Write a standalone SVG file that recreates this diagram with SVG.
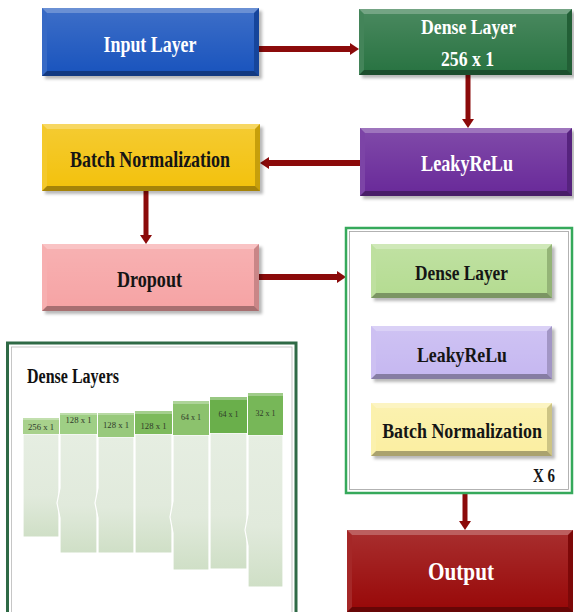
<svg xmlns="http://www.w3.org/2000/svg" width="574" height="612" viewBox="0 0 574 612">
<defs>
<style>
.t{font-family:"Liberation Serif","Times New Roman",serif;font-weight:bold;text-anchor:middle}
.w{fill:#ffffff}
.k{fill:#151515}
.bt{fill:#ffffff;fill-opacity:.35}
.bb{fill:#000000;fill-opacity:.32}
.bl{fill:#ffffff;fill-opacity:.12}
.br{fill:#000000;fill-opacity:.18}
.sh{fill:#000000;fill-opacity:.28;filter:url(#blur)}
.face{fill:url(#faceg)}
.arr{stroke:#8b0a0a;fill:none}
.lbl{font-family:"Liberation Serif","Times New Roman",serif;font-size:9px;fill:#2f3a2a;text-anchor:middle}
.body{fill:url(#bodyg);stroke:#ffffff;stroke-width:1.2}
.top{fill:#ffffff;fill-opacity:.3}
</style>
<filter id="blur" x="-10%" y="-10%" width="120%" height="130%"><feGaussianBlur stdDeviation="1.5"/></filter>
<linearGradient id="faceg" x1="0" y1="0" x2="0" y2="1">
<stop offset="0" stop-color="#ffffff" stop-opacity=".14"/>
<stop offset="1" stop-color="#ffffff" stop-opacity="0"/>
</linearGradient>
<linearGradient id="bodyg" x1="0" y1="0" x2="0" y2="1">
<stop offset="0" stop-color="#e6eee2"/>
<stop offset=".6" stop-color="#e1eadc"/>
<stop offset="1" stop-color="#cfdfc6"/>
</linearGradient>
<marker id="ah" markerUnits="userSpaceOnUse" viewBox="0 0 9 12" refX="0" refY="6" markerWidth="9" markerHeight="12" orient="auto">
<path d="M0,0 L9,6 L0,12 Z" fill="#8b0a0a"/>
</marker>
</defs>

<rect width="574" height="612" fill="#ffffff"/>

<!-- connectors -->
<g id="connectors">
<line class="arr" x1="259" y1="49" x2="350" y2="49" stroke-width="6" marker-end="url(#ah)"/>
<line class="arr" x1="468" y1="75" x2="468" y2="119" stroke-width="5" marker-end="url(#ah)"/>
<line class="arr" x1="360" y1="163" x2="269" y2="163" stroke-width="6" marker-end="url(#ah)"/>
<line class="arr" x1="146" y1="191" x2="146" y2="235" stroke-width="5" marker-end="url(#ah)"/>
<line class="arr" x1="259" y1="277" x2="337" y2="277" stroke-width="6" marker-end="url(#ah)"/>
<line class="arr" x1="465" y1="494" x2="465" y2="521" stroke-width="5" marker-end="url(#ah)"/>
</g>

<!-- Input Layer -->
<g id="input-layer">
<rect class="sh" x="45" y="11" width="217" height="68"/>
<rect x="42" y="8" width="217" height="68" fill="#1b55be"/>
<polygon class="bt" points="42,8 259,8 254,13 47,13"/>
<polygon class="bb" points="42,76 259,76 254,71 47,71"/>
<polygon class="bl" points="42,8 47,13 47,71 42,76"/>
<polygon class="br" points="259,8 254,13 254,71 259,76"/>
<rect class="face" x="47" y="13" width="207" height="58"/>
<text class="t w" x="150" y="52" font-size="24" textLength="93" lengthAdjust="spacingAndGlyphs">Input Layer</text>
</g>

<!-- Dense Layer 256 x 1 -->
<g id="dense-layer-top">
<rect class="sh" x="362" y="12" width="213" height="66"/>
<rect x="359" y="9" width="213" height="66" fill="#2a7443"/>
<polygon class="bt" points="359,9 572,9 567,14 364,14"/>
<polygon class="bb" points="359,75 572,75 567,70 364,70"/>
<polygon class="bl" points="359,9 364,14 364,70 359,75"/>
<polygon class="br" points="572,9 567,14 567,70 572,75"/>
<rect class="face" x="364" y="14" width="203" height="56"/>
<text class="t w" x="468.5" y="34" font-size="21" textLength="95" lengthAdjust="spacingAndGlyphs">Dense Layer</text>
<text class="t w" x="467.5" y="66" font-size="21" textLength="53" lengthAdjust="spacingAndGlyphs">256 x 1</text>
</g>

<!-- LeakyReLu top -->
<g id="leakyrelu-top">
<rect class="sh" x="363" y="131" width="212" height="68"/>
<rect x="360" y="128" width="212" height="68" fill="#6a2b9a"/>
<polygon class="bt" points="360,128 572,128 567,133 365,133"/>
<polygon class="bb" points="360,196 572,196 567,191 365,191"/>
<polygon class="bl" points="360,128 365,133 365,191 360,196"/>
<polygon class="br" points="572,128 567,133 567,191 572,196"/>
<rect class="face" x="365" y="133" width="202" height="58"/>
<text class="t w" x="467" y="171" font-size="23" textLength="92" lengthAdjust="spacingAndGlyphs">LeakyReLu</text>
</g>

<!-- Batch Normalization top -->
<g id="batch-norm-top">
<rect class="sh" x="45" y="127" width="218" height="67"/>
<rect x="42" y="124" width="218" height="67" fill="#f3c20e"/>
<polygon class="bt" points="42,124 260,124 255,129 47,129"/>
<polygon class="bb" points="42,191 260,191 255,186 47,186"/>
<polygon class="bl" points="42,124 47,129 47,186 42,191"/>
<polygon class="br" points="260,124 255,129 255,186 260,191"/>
<rect class="face" x="47" y="129" width="208" height="57"/>
<text class="t k" x="150" y="167" font-size="24" textLength="160" lengthAdjust="spacingAndGlyphs">Batch Normalization</text>
</g>

<!-- Dropout -->
<g id="dropout">
<rect class="sh" x="45" y="247" width="217" height="67"/>
<rect x="42" y="244" width="217" height="67" fill="#f6a4a5"/>
<polygon class="bt" points="42,244 259,244 254,249 47,249"/>
<polygon class="bb" points="42,311 259,311 254,306 47,306"/>
<polygon class="bl" points="42,244 47,249 47,306 42,311"/>
<polygon class="br" points="259,244 254,249 254,306 259,311"/>
<rect class="face" x="47" y="249" width="207" height="57"/>
<text class="t k" x="149.5" y="287" font-size="24" textLength="65" lengthAdjust="spacingAndGlyphs">Dropout</text>
</g>

<!-- Repeated block group -->
<g id="repeat-block">
<rect x="346" y="228" width="226" height="265" fill="#ffffff" stroke="#36a95b" stroke-width="2.5"/>
<rect x="349.5" y="231.5" width="219" height="258" fill="none" stroke="#a0a0a0" stroke-width="0.8"/>
<text class="t k" x="544" y="482" font-size="18" textLength="22" lengthAdjust="spacingAndGlyphs">X 6</text>
</g>

<g id="dense-layer-inner">
<rect class="sh" x="374" y="247" width="181" height="54"/>
<rect x="371" y="244" width="181" height="54" fill="#b5dc92"/>
<polygon class="bt" points="371,244 552,244 547,249 376,249"/>
<polygon class="bb" points="371,298 552,298 547,293 376,293"/>
<polygon class="bl" points="371,244 376,249 376,293 371,298"/>
<polygon class="br" points="552,244 547,249 547,293 552,298"/>
<rect class="face" x="376" y="249" width="171" height="44"/>
<text class="t k" x="461.5" y="280" font-size="22" textLength="93" lengthAdjust="spacingAndGlyphs">Dense Layer</text>
</g>

<g id="leakyrelu-inner">
<rect class="sh" x="374" y="329" width="181" height="53"/>
<rect x="371" y="326" width="181" height="53" fill="#c6b8f1"/>
<polygon class="bt" points="371,326 552,326 547,331 376,331"/>
<polygon class="bb" points="371,379 552,379 547,374 376,374"/>
<polygon class="bl" points="371,326 376,331 376,374 371,379"/>
<polygon class="br" points="552,326 547,331 547,374 552,379"/>
<rect class="face" x="376" y="331" width="171" height="43"/>
<text class="t k" x="462" y="362" font-size="22" textLength="90" lengthAdjust="spacingAndGlyphs">LeakyReLu</text>
</g>

<g id="batch-norm-inner">
<rect class="sh" x="374" y="406" width="181" height="53"/>
<rect x="371" y="403" width="181" height="53" fill="#fbefa2"/>
<polygon class="bt" points="371,403 552,403 547,408 376,408"/>
<polygon class="bb" points="371,456 552,456 547,451 376,451"/>
<polygon class="bl" points="371,403 376,408 376,451 371,456"/>
<polygon class="br" points="552,403 547,408 547,451 552,456"/>
<rect class="face" x="376" y="408" width="171" height="43"/>
<text class="t k" x="0" y="0" font-size="22" transform="translate(462,438) scale(0.815,1)">Batch Normalization</text>
</g>

<!-- Output -->
<g id="output">
<rect x="347" y="530" width="226" height="82" fill="#990a0a"/>
<polygon class="bt" points="347,530 573,530 568,535 352,535"/>
<polygon class="bb" points="347,612 573,612 568,607 352,607"/>
<polygon class="bl" points="347,530 352,535 352,607 347,612"/>
<polygon class="br" points="573,530 568,535 568,607 573,612"/>
<rect class="face" x="352" y="535" width="216" height="72"/>
<text class="t w" x="461" y="580" font-size="25" textLength="66" lengthAdjust="spacingAndGlyphs">Output</text>
</g>

<!-- Dense Layers panel -->
<g id="dense-layers-panel">
<rect x="7.5" y="343" width="288.5" height="275" fill="#ffffff" stroke="#2f6a46" stroke-width="3"/>
<rect x="11.5" y="347" width="280.5" height="270" fill="none" stroke="#b8b8b8" stroke-width="0.8"/>
<text x="27" y="383" font-family="Liberation Serif, Times New Roman, serif" font-weight="bold" font-size="20" fill="#111" textLength="92" lengthAdjust="spacingAndGlyphs">Dense Layers</text>

<g id="bar-1">
<path class="body" d="M23,434 H59 V537 H23 Z"/>
<rect x="23" y="418" width="36" height="16" fill="#a8d18c"/>
<rect class="top" x="23" y="418" width="36" height="2"/>
<text class="lbl" x="41" y="430" textLength="26" lengthAdjust="spacingAndGlyphs">256 x 1</text>
</g>
<g id="bar-2">
<path class="body" d="M60,434 H97 V553 H60 V518 L57,503 L60,488 Z"/>
<rect x="60" y="413" width="37" height="21" fill="#9fcf85"/>
<rect class="top" x="60" y="413" width="37" height="2"/>
<text class="lbl" x="78.5" y="423" textLength="26" lengthAdjust="spacingAndGlyphs">128 x 1</text>
</g>
<g id="bar-3">
<path class="body" d="M98,437 H134 V553 H98 V518 L95,503 L98,488 Z"/>
<rect x="98" y="413" width="36" height="24" fill="#98c97c"/>
<rect class="top" x="98" y="413" width="36" height="2"/>
<text class="lbl" x="116" y="428" textLength="26" lengthAdjust="spacingAndGlyphs">128 x 1</text>
</g>
<g id="bar-4">
<path class="body" d="M135,434 H172 V553 H135 Z"/>
<rect x="135" y="411" width="37" height="23" fill="#7dba5c"/>
<rect class="top" x="135" y="411" width="37" height="3"/>
<text class="lbl" x="153.5" y="429" textLength="26" lengthAdjust="spacingAndGlyphs">128 x 1</text>
</g>
<g id="bar-5">
<path class="body" d="M173,435 H209 V570 H173 V533 L170,517 L173,501 Z"/>
<rect x="173" y="401" width="36" height="34" fill="#8cc26d"/>
<rect class="top" x="173" y="401" width="36" height="3"/>
<text class="lbl" x="191" y="420" textLength="20" lengthAdjust="spacingAndGlyphs">64 x 1</text>
</g>
<g id="bar-6">
<path class="body" d="M210,433 H247 V569 H210 Z"/>
<rect x="210" y="397" width="37" height="36" fill="#6aaf4b"/>
<rect class="top" x="210" y="397" width="37" height="3"/>
<text class="lbl" x="228.5" y="417" textLength="20" lengthAdjust="spacingAndGlyphs">64 x 1</text>
</g>
<g id="bar-7">
<path class="body" d="M248,435 H283 V587 H248 V546 L245,530 L248,514 Z"/>
<rect x="248" y="393" width="35" height="42" fill="#77b758"/>
<rect class="top" x="248" y="393" width="35" height="3"/>
<text class="lbl" x="265.5" y="416" textLength="20" lengthAdjust="spacingAndGlyphs">32 x 1</text>
</g>
</g>
</svg>
